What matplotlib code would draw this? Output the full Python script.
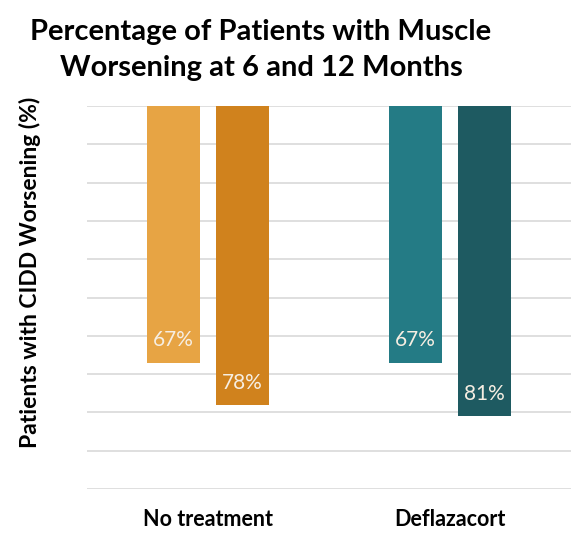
import matplotlib.pyplot as plt
import numpy as np

plt.rcParams['font.family'] = ['Lato', 'DejaVu Sans']

groups = ['No treatment', 'Deflazacort']
months = ['6 months', '12 months']
pct_6mo = [67, 67]
pct_12mo = [78, 81]
colors_6mo = ['#E7A444', '#247B85']
colors_12mo = ['#D0821D', '#1E5A61']

fig = plt.figure(figsize=(5.71, 5.34), dpi=100)
ax = fig.add_axes([87 / 571, 1 - 489 / 534, 1 - 87 / 571, (489 - 106) / 534])

x = np.arange(len(groups))
w = 0.22
off = 0.143

b1 = ax.bar(x - off, pct_6mo, w, color=colors_6mo, zorder=2)
b2 = ax.bar(x + off, pct_12mo, w, color=colors_12mo, zorder=2)

for bars, vals in [(b1, pct_6mo), (b2, pct_12mo)]:
    for b, v in zip(bars, vals):
        ax.text(b.get_x() + b.get_width() / 2, v - 5.8, f'{v}%',
                ha='center', va='center', color='#F6EEE2', fontsize=15)

ax.set_ylim(100, 0)
ax.set_xlim(-0.5, 1.5)
ax.set_yticks(np.arange(0, 101, 10))
ax.yaxis.grid(True, color='#D9D9D9', linewidth=1.2, zorder=0)
ax.tick_params(left=False, bottom=False, labelleft=False, labelbottom=False)
for s in ax.spines.values():
    s.set_visible(False)

for xi, name in zip(x, groups):
    fig.text((87 + (xi + 0.5) * 242) / 571, 1 - 520 / 534, name,
             ha='center', va='center', fontsize=15.5, fontweight='bold')

fig.text(30 / 571, 1 - 272 / 534, 'Patients with CIDD Worsening (%)',
         rotation=90, ha='center', va='center', fontsize=16.5, fontweight='bold')

fig.text(261 / 571, 1 - 50 / 534,
         'Percentage of Patients with Muscle\nWorsening at 6 and 12 Months',
         ha='center', va='center', fontsize=21, fontweight='bold',
         linespacing=1.5)

fig.savefig('out.png', dpi=100)
